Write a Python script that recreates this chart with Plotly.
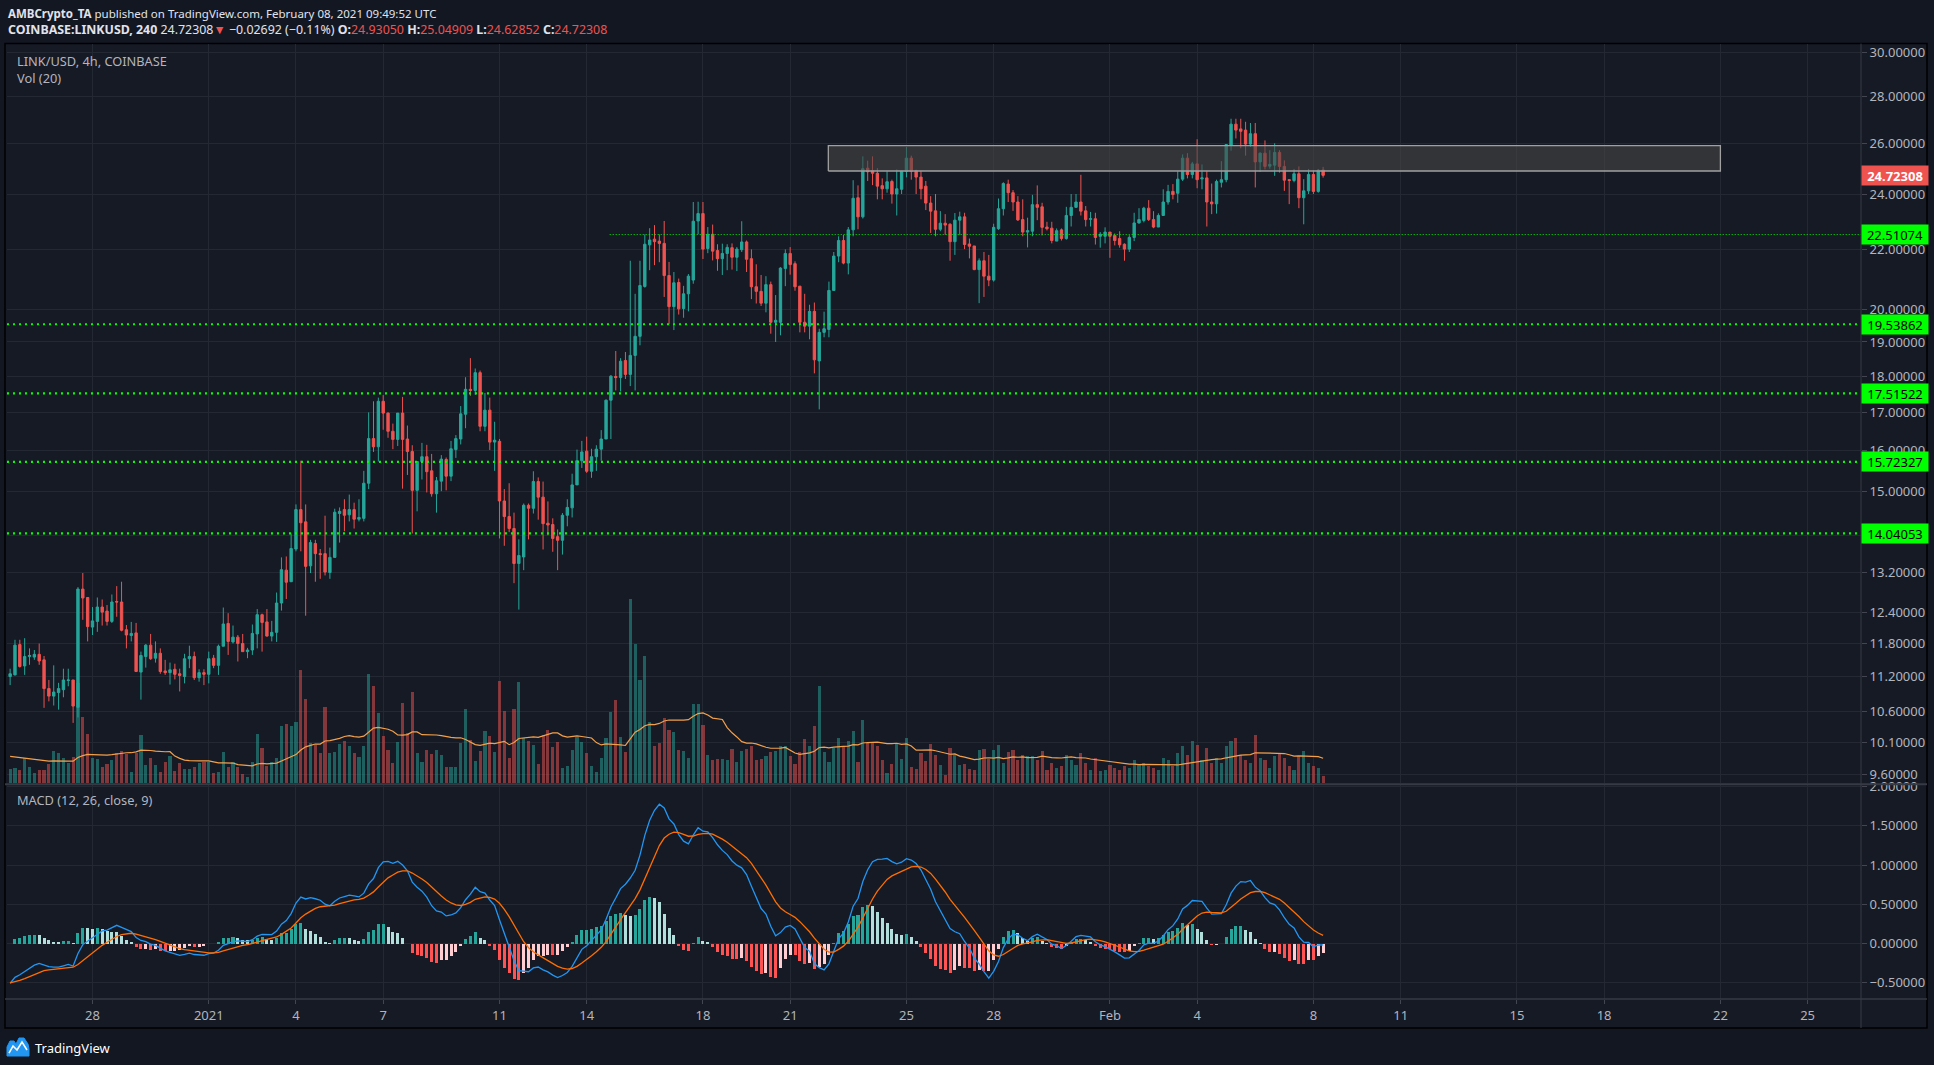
import numpy as np
import pandas as pd
import plotly.graph_objects as go

W, H = 1934, 1065
SQ = 0.993  # small vertical correction measured against the reference render
def px(x): return x / W
def py(y): return 1 - (H - (H - y) / SQ) / H

# ---------------- data ----------------
bar_start = "2020-12-25 04:00"
bar_count = 272

open_ = [11.20,11.23,11.78,11.39,11.56,11.55,11.60,11.50,10.99,10.86,
 10.92,10.97,11.13,11.14,10.67,12.86,12.69,12.11,12.22,12.50,
 12.42,12.22,12.61,12.60,12.06,11.95,12.00,11.28,11.56,11.77,
 11.53,11.62,11.30,11.27,11.33,11.25,11.20,11.52,11.56,11.18,
 11.27,11.24,11.53,11.40,11.75,12.18,11.83,11.92,11.80,11.65,
 11.68,11.98,12.35,12.21,11.94,12.01,12.58,13.25,13.01,13.70,
 14.58,14.30,13.34,13.82,13.60,13.60,13.20,13.52,14.49,14.58,
 14.46,14.58,14.36,14.38,15.20,16.31,16.10,17.30,16.98,16.50,
 16.29,16.98,16.30,15.98,15.03,15.73,15.85,15.50,14.95,15.25,
 15.78,15.37,16.03,16.30,16.95,17.63,17.60,18.10,16.63,17.06,
 16.22,16.24,14.78,14.42,14.15,13.39,13.53,14.68,14.61,15.24,
 14.87,14.27,14.24,13.97,13.89,14.45,14.62,15.16,15.75,15.99,
 15.49,15.85,16.04,16.30,17.33,17.99,17.96,18.45,18.05,18.60,
 19.17,20.74,22.15,22.35,22.28,22.20,21.10,20.09,20.87,20.03,
 20.50,20.95,23.00,23.27,22.02,22.52,21.95,21.67,21.85,22.05,
 21.72,21.98,22.25,21.67,20.73,20.58,20.20,20.80,19.60,19.60,
 21.34,21.85,21.50,20.75,19.60,19.48,19.94,18.44,19.29,19.38,
 20.61,21.76,22.30,21.52,22.68,23.86,23.15,25.00,24.90,24.80,
 24.32,24.20,24.48,24.00,24.18,24.88,25.40,24.90,24.65,24.30,
 23.66,23.37,22.70,22.92,22.88,22.26,23.03,23.15,22.18,22.11,
 21.30,21.60,21.08,20.95,22.72,23.45,24.38,24.05,23.70,23.05,
 22.60,22.63,23.60,23.52,22.78,22.74,22.28,22.68,22.37,23.20,
 23.50,23.70,23.37,23.06,23.08,22.45,22.45,22.60,22.48,22.37,
 22.17,22.00,22.41,22.93,23.02,23.47,23.05,22.78,23.20,23.70,
 24.10,24.03,24.57,25.40,24.75,25.17,24.58,24.62,23.70,23.63,
 24.45,24.55,25.93,26.80,26.60,26.55,25.97,26.40,25.25,25.60,
 25.08,25.12,25.63,25.07,24.55,24.52,24.78,23.86,24.12,24.75,
 24.10,24.93]

high = [11.34,11.87,11.87,11.90,11.71,11.68,11.80,11.57,11.14,11.40,
 11.09,11.34,11.34,11.14,12.90,13.19,12.69,12.50,12.69,12.65,
 12.54,12.75,12.92,13.01,12.15,12.21,12.19,11.65,11.79,11.98,
 11.84,11.71,11.50,11.45,11.43,11.34,11.61,11.76,11.65,11.33,
 11.33,11.65,11.59,11.78,12.49,12.38,12.14,11.96,11.98,11.72,
 12.16,12.46,12.37,12.46,12.23,12.79,13.52,13.54,14.04,14.70,
 15.75,14.70,13.90,13.90,13.70,14.44,13.73,14.60,14.63,14.82,
 14.93,14.74,14.82,15.50,17.00,17.30,17.40,17.47,17.00,16.70,
 16.98,17.42,16.65,16.14,15.73,16.20,16.15,15.92,15.35,15.89,
 15.83,16.25,16.40,17.17,17.97,18.52,18.22,18.16,17.53,17.40,
 16.75,16.30,15.06,15.20,14.51,13.91,14.72,14.72,15.49,15.34,
 15.24,14.77,14.38,14.13,14.50,14.82,15.43,16.03,16.25,16.36,
 16.05,16.14,16.53,17.35,18.03,18.73,18.52,18.70,21.60,20.50,
 21.60,22.52,22.74,22.85,22.52,23.00,21.56,21.22,21.00,20.76,
 21.15,23.70,23.71,23.70,22.78,22.87,22.17,22.19,22.17,22.20,
 22.07,22.99,22.30,21.99,21.48,21.12,21.08,20.90,20.46,21.38,
 21.99,22.07,21.58,20.75,20.50,20.15,20.22,19.40,19.93,20.90,
 21.90,22.45,22.50,22.78,24.53,24.33,25.47,25.30,25.47,25.00,
 24.60,24.88,24.55,24.95,24.90,25.85,25.50,24.94,24.90,24.50,
 23.92,24.00,23.36,23.25,22.92,23.29,23.34,23.30,22.37,22.11,
 21.68,21.90,21.80,22.90,23.83,24.45,24.55,24.15,23.92,23.80,
 23.12,23.97,24.33,23.67,22.97,22.97,22.73,22.73,23.52,24.00,
 24.00,24.74,23.55,23.33,23.30,22.60,22.77,22.60,22.55,22.63,
 22.20,22.49,23.30,23.47,23.52,23.77,23.36,23.28,24.18,24.35,
 24.38,24.88,25.55,25.60,25.25,26.17,25.15,24.90,24.40,24.55,
 25.28,25.95,27.03,27.03,27.03,26.90,26.85,26.85,25.63,26.12,
 25.72,26.00,25.72,25.31,24.57,24.97,25.07,24.57,24.97,24.93,
 24.97,25.05]

low = [11.05,11.22,11.36,11.23,11.41,11.50,11.41,10.66,10.77,10.70,
 10.63,10.84,11.03,10.41,10.50,12.25,11.84,11.96,12.02,12.14,
 12.14,12.19,12.31,12.03,11.71,11.84,11.28,10.80,11.36,11.50,
 11.45,11.25,11.23,11.06,11.15,10.94,11.08,11.35,11.14,11.11,
 11.05,11.08,11.35,11.23,11.75,11.59,11.80,11.47,11.65,11.53,
 11.59,11.71,11.65,11.93,11.84,11.83,12.43,12.66,13.01,13.65,
 13.65,12.33,13.19,13.01,13.07,13.14,13.07,13.52,13.84,14.09,
 14.31,14.15,14.31,14.31,15.06,15.97,15.73,16.54,16.33,16.04,
 16.12,15.07,15.40,14.04,14.54,15.29,14.98,14.88,14.51,15.01,
 15.03,15.25,15.82,16.16,16.58,17.45,17.48,16.50,16.50,16.02,
 15.50,13.93,13.77,14.07,12.98,12.45,13.25,13.91,14.49,14.35,
 13.69,14.00,13.64,13.25,13.58,14.20,14.40,15.16,15.57,15.45,
 15.33,15.50,15.75,16.30,16.30,17.60,17.57,17.92,17.72,17.60,
 18.90,20.70,21.28,21.45,21.55,20.40,19.54,19.36,19.84,19.74,
 19.94,20.83,22.52,21.66,21.86,21.61,21.26,21.12,21.28,21.30,
 21.25,21.90,21.22,20.33,20.19,20.11,19.91,19.25,19.00,19.20,
 20.75,21.13,20.60,19.29,19.29,19.08,18.08,17.08,19.14,19.14,
 20.61,21.55,21.48,21.14,22.45,22.70,23.09,24.50,24.34,23.80,
 23.80,24.05,23.64,23.20,24.00,24.64,24.55,24.00,23.80,23.40,
 22.57,22.45,22.63,22.50,21.60,21.80,22.50,22.00,21.68,21.28,
 20.20,20.40,20.75,20.90,22.68,23.20,23.70,23.37,23.00,22.45,
 22.06,22.45,23.03,22.48,22.66,22.20,22.28,22.30,22.33,22.80,
 23.50,23.20,22.80,22.80,22.16,22.05,22.20,21.70,22.13,22.05,
 21.60,21.90,22.28,22.90,22.95,23.00,22.74,22.78,23.20,23.60,
 23.80,23.67,24.50,24.60,24.60,24.22,24.18,22.80,23.25,23.27,
 24.25,24.45,25.70,26.20,25.80,25.50,25.85,24.25,24.86,24.95,
 24.98,24.70,24.83,24.12,23.62,24.45,23.47,22.88,24.00,24.00,
 24.05,24.63]

close = [11.25,11.77,11.38,11.56,11.58,11.60,11.48,10.99,10.86,10.93,
 10.99,11.14,11.14,10.69,12.86,12.68,12.12,12.23,12.50,12.40,
 12.22,12.60,12.60,12.05,11.96,11.99,11.29,11.58,11.77,11.52,
 11.62,11.29,11.27,11.32,11.24,11.22,11.52,11.56,11.18,11.27,
 11.24,11.52,11.40,11.75,12.17,11.84,11.92,11.80,11.65,11.68,
 11.99,12.35,12.20,11.94,12.01,12.58,13.26,13.00,13.71,14.58,
 14.28,13.33,13.84,13.60,13.58,13.21,13.52,14.52,14.54,14.45,
 14.58,14.36,14.40,15.20,16.31,16.10,17.30,16.98,16.50,16.29,
 16.98,16.29,15.98,15.03,15.73,15.85,15.48,14.95,15.26,15.79,
 15.37,16.05,16.31,16.96,17.63,17.60,18.10,16.63,17.06,16.22,
 16.27,14.78,14.42,14.15,13.39,13.56,14.68,14.61,15.24,14.87,
 14.26,14.23,13.93,13.89,14.45,14.63,15.16,15.75,15.97,15.49,
 15.85,16.04,16.30,17.33,18.00,17.96,18.43,18.05,18.60,19.17,
 20.77,22.17,22.32,22.26,22.20,21.10,20.09,20.86,20.02,20.50,
 21.08,22.99,23.27,22.00,22.52,21.93,21.67,21.85,22.06,21.72,
 22.00,22.25,21.65,20.73,20.58,20.20,20.80,19.60,19.66,21.35,
 21.85,21.47,20.73,19.60,19.48,19.94,18.47,19.29,19.40,20.61,
 21.76,22.30,21.52,22.68,23.84,23.15,24.98,24.86,24.80,24.30,
 24.20,24.47,24.00,24.20,24.88,25.40,24.88,24.65,24.20,23.66,
 23.36,22.70,22.92,22.85,22.26,23.03,23.15,22.16,22.10,21.30,
 21.60,21.08,20.95,22.77,23.45,24.40,24.05,23.70,23.04,22.60,
 22.65,23.60,23.50,22.77,22.72,22.30,22.65,22.37,23.20,23.50,
 23.70,23.36,23.05,23.08,22.41,22.52,22.60,22.45,22.30,22.15,
 22.00,22.41,22.93,23.05,23.47,23.05,22.78,23.20,23.70,24.10,
 23.98,24.57,25.40,24.75,25.17,24.55,24.62,23.70,23.63,24.48,
 24.55,25.95,26.80,26.55,26.50,25.97,26.40,25.25,25.60,25.07,
 25.15,25.63,25.07,24.53,24.52,24.78,23.86,24.12,24.75,24.10,
 24.92,24.72]

volume = [43,46,40,76,49,31,40,40,58,97,
 91,76,61,79,299,199,148,76,73,49,
 58,70,91,97,88,34,91,145,55,76,
 55,34,64,82,37,61,43,43,49,61,
 64,64,31,34,94,49,64,49,28,19,
 64,148,106,52,64,76,172,178,172,184,
 340,253,121,115,91,229,91,94,118,127,
 112,91,79,112,328,292,211,142,100,61,
 124,241,151,274,91,64,100,88,100,85,
 49,49,49,121,223,130,67,97,157,142,
 94,307,217,76,223,304,136,127,115,58,
 145,160,109,124,46,52,100,139,124,91,
 52,34,76,136,214,250,139,94,553,418,
 310,382,184,112,121,196,160,154,100,97,
 76,238,238,175,85,70,73,73,70,103,
 64,97,103,112,70,73,82,94,97,112,
 112,82,58,94,133,112,172,292,94,64,
 106,136,112,127,157,64,190,121,121,112,
 70,31,58,118,73,136,49,43,91,67,
 118,85,55,25,106,85,55,58,43,40,
 100,103,73,100,115,61,94,100,70,85,
 82,82,70,95,40,60,45,50,85,70,
 55,90,60,40,75,35,40,55,45,40,
 50,45,70,55,60,50,45,40,75,70,
 50,90,110,85,125,115,70,105,60,75,
 60,110,125,135,85,70,60,145,75,70,
 45,80,90,75,50,40,80,95,60,50,
 45,20]

macd_seed_ema12 = 11.30
macd_seed_ema26 = 11.84
macd_seed_signal = -0.50
vol_ma_seed = 82

# horizontal levels and zone
support_levels = [19.53862, 17.51522, 15.72327, 14.04053]
pivot_level = 22.51074
pivot_start = "2021-01-14 19:00"
zone_low, zone_high = 24.89, 25.91
zone_start, zone_end = "2021-01-22 07:30", "2021-02-22 00:00"
last_price = 24.72308

price_ticks = [30, 28, 26, 24, 22, 20, 19, 18, 17, 16, 15, 14, 13.2, 12.4, 11.8, 11.2, 10.6, 10.1, 9.6]
macd_ticks = [2.0, 1.5, 1.0, 0.5, 0.0, -0.5]
date_ticks = ["2020-12-28","2021-01-01","2021-01-04","2021-01-07","2021-01-11","2021-01-14",
              "2021-01-18","2021-01-21","2021-01-25","2021-01-28","2021-02-01","2021-02-04",
              "2021-02-08","2021-02-11","2021-02-15","2021-02-18","2021-02-22","2021-02-25"]
date_labels = ["28","2021","4","7","11","14","18","21","25","28","Feb","4","8","11","15","18","22","25"]

x_left, x_right = "2020-12-25 01:25", "2021-02-26 20:05"
price_lo, price_hi = 9.465, 30.44
macd_lo, macd_hi = -0.705, 2.018
vol_top = 2217

# ---------------- derived ----------------
times = pd.date_range(bar_start, periods=bar_count, freq="4h")
up = [c >= o for o, c in zip(open_, close)]
UP, DN = "#26a69a", "#ef5350"
vol_colors = ["rgba(38,166,154,0.5)" if u else "rgba(239,83,80,0.5)" for u in up]

vol_ma = pd.Series([vol_ma_seed] * 19 + volume).rolling(20).mean().iloc[19:].values

e12, e26, sg = macd_seed_ema12, macd_seed_ema26, macd_seed_signal
macd, signal = [], []
for c in close:
    e12 += 2 / 13 * (c - e12)
    e26 += 2 / 27 * (c - e26)
    m = e12 - e26
    sg += 2 / 10 * (m - sg)
    macd.append(m)
    signal.append(sg)
hist = [m - s for m, s in zip(macd, signal)]
hist_colors = []
for i, hv in enumerate(hist):
    prev = hist[i - 1] if i > 0 else hv
    if hv >= 0:
        hist_colors.append("#26a69a" if hv > prev else "#b2dfdb")
    else:
        hist_colors.append("#ffcdd2" if hv > prev else "#ff5252")

bar_ms = 4 * 3600 * 1000
FONT = "Noto Sans"
GRID = "#242833"
TXT = "#b2b5be"

fig = go.Figure()

# zone
fig.add_trace(go.Scatter(x=[zone_start, zone_end, zone_end, zone_start, zone_start],
                         y=[zone_low, zone_low, zone_high, zone_high, zone_low],
                         mode="lines", fill="toself", fillcolor="rgba(70,70,70,0.6)",
                         line=dict(color="#a0a0a0", width=1.3), xaxis="x", yaxis="y2",
                         hoverinfo="skip"))
# volume
fig.add_trace(go.Bar(x=times, y=volume, marker=dict(color=vol_colors, line=dict(width=0)),
                     width=bar_ms * 0.65, xaxis="x", yaxis="y", hoverinfo="skip"))
fig.add_trace(go.Scatter(x=times, y=vol_ma, mode="lines", line=dict(color="#f4a04a", width=1.2),
                         xaxis="x", yaxis="y", hoverinfo="skip"))
# levels
for lv in support_levels:
    fig.add_trace(go.Scatter(x=[x_left, x_right], y=[lv, lv], mode="lines",
                             line=dict(color="#00ff00", width=2.2, dash="2px,4px"),
                             xaxis="x", yaxis="y2", hoverinfo="skip"))
fig.add_trace(go.Scatter(x=[pivot_start, x_right], y=[pivot_level, pivot_level], mode="lines",
                         line=dict(color="#00ff00", width=1, dash="1px,2px"),
                         xaxis="x", yaxis="y2", hoverinfo="skip"))
# candles
fig.add_trace(go.Candlestick(x=times, open=open_, high=high, low=low, close=close,
                             increasing=dict(line=dict(color=UP, width=1), fillcolor=UP),
                             decreasing=dict(line=dict(color=DN, width=1), fillcolor=DN),
                             whiskerwidth=0, xaxis="x", yaxis="y2", hoverinfo="skip"))
# MACD
fig.add_trace(go.Bar(x=times, y=hist, marker=dict(color=hist_colors, line=dict(width=0)),
                     width=bar_ms * 0.62, xaxis="x2", yaxis="y3", hoverinfo="skip"))
fig.add_trace(go.Scatter(x=times, y=macd, mode="lines", line=dict(color="#2196f3", width=1.3),
                         xaxis="x2", yaxis="y3", hoverinfo="skip"))
fig.add_trace(go.Scatter(x=times, y=signal, mode="lines", line=dict(color="#ff6d00", width=1.3),
                         xaxis="x2", yaxis="y3", hoverinfo="skip"))

x_dom = [px(7), px(1861)]
price_dom = [py(783), py(43)]
macd_dom = [py(999), py(785)]
tickfont = dict(family=FONT, size=13, color=TXT)

fig.update_layout(
    width=W, height=H, margin=dict(l=0, r=0, t=0, b=0),
    paper_bgcolor="#131722", plot_bgcolor="rgba(0,0,0,0)",
    showlegend=False, hovermode=False, bargap=0,
    font=dict(family=FONT, color=TXT),
    xaxis=dict(domain=x_dom, anchor="y", type="date", range=[x_left, x_right],
               tickvals=date_ticks, showticklabels=False, ticks="", showgrid=True,
               gridcolor=GRID, gridwidth=1, zeroline=False, showline=False,
               rangeslider=dict(visible=False)),
    yaxis=dict(domain=price_dom, range=[0, vol_top], visible=False, showgrid=False),
    yaxis2=dict(overlaying="y", anchor="x", side="right", type="log",
                range=[np.log10(price_lo), np.log10(price_hi)],
                tickvals=price_ticks, ticktext=[f"{v:.5f}" for v in price_ticks],
                showgrid=True, gridcolor=GRID, zeroline=False, showline=False,
                ticks="outside", ticklen=5, tickcolor="#434651", tickfont=tickfont),
    xaxis2=dict(domain=x_dom, anchor="y3", matches="x", type="date",
                tickvals=date_ticks, ticktext=date_labels, showgrid=True, gridcolor=GRID,
                ticks="outside", ticklen=4, tickcolor="#434651", tickfont=tickfont,
                zeroline=False, showline=False, rangeslider=dict(visible=False)),
    yaxis3=dict(domain=macd_dom, anchor="x2", side="right", range=[macd_lo, macd_hi],
                tickvals=macd_ticks,
                ticktext=[f"{v:.5f}".replace("-", "\u2212") for v in macd_ticks],
                showgrid=True, gridcolor=GRID, zeroline=False, showline=False,
                ticks="outside", ticklen=5, tickcolor="#434651", tickfont=tickfont),
)

shapes = [
    dict(type="rect", xref="paper", yref="paper", x0=px(5), x1=px(1927), y0=py(1028), y1=py(43),
         fillcolor="#161a25", line=dict(color="#000000", width=1.5), layer="below"),
    dict(type="line", xref="paper", yref="paper", x0=px(1861), x1=px(1861), y0=py(1028), y1=py(43),
         line=dict(color="#363a45", width=1), layer="above"),
    dict(type="line", xref="paper", yref="paper", x0=px(5), x1=px(1927), y0=py(784), y1=py(784),
         line=dict(color="#363a45", width=2), layer="above"),
    dict(type="line", xref="paper", yref="paper", x0=px(5), x1=px(1927), y0=py(999), y1=py(999),
         line=dict(color="#363a45", width=1.5), layer="above"),
]
# TradingView logo mark
logo = [(7, 1056), (7, 1047), (10, 1041), (14, 1041), (16, 1044), (19, 1038), (24, 1038),
        (28, 1044), (29, 1049), (29, 1056)]
path = "M " + " L ".join(f"{px(a)} {py(b)}" for a, b in logo) + " Z"
shapes.append(dict(type="path", xref="paper", yref="paper", path=path,
                   fillcolor="#2196f3", line=dict(color="#2196f3", width=1)))
zig = [(9, 1053), (13, 1046), (17, 1050), (22, 1042), (27, 1050)]
shapes.append(dict(type="path", xref="paper", yref="paper",
                   path="M " + " L ".join(f"{px(a)} {py(b)}" for a, b in zig),
                   line=dict(color="#ffffff", width=1.5)))
fig.update_layout(shapes=shapes)

RED = "#ef5350"
ann = []
ann.append(dict(xref="paper", yref="paper", x=px(6), y=py(13), xanchor="left", yanchor="middle",
                showarrow=False, font=dict(family=FONT, size=11.5, color="#e0e3eb"),
                text="<b>AMBCrypto_TA</b> published on TradingView.com, February 08, 2021 09:49:52 UTC"))
ann.append(dict(xref="paper", yref="paper", x=px(6), y=py(29), xanchor="left", yanchor="middle",
                showarrow=False, font=dict(family=FONT, size=12.4, color="#e0e3eb"),
                text=(f"<b>COINBASE:LINKUSD, 240</b> 24.72308<span style='color:{RED}'>\u25bc</span> "
                      f"\u22120.02692 (\u22120.11%) <b>O:</b><span style='color:{RED}'>24.93050</span> "
                      f"<b>H:</b><span style='color:{RED}'>25.04909</span> "
                      f"<b>L:</b><span style='color:{RED}'>24.62852</span> "
                      f"<b>C:</b><span style='color:{RED}'>24.72308</span>")))
for txt, yy in [("LINK/USD, 4h, COINBASE", 60), ("Vol (20)", 77), ("MACD (12, 26, close, 9)", 800)]:
    ann.append(dict(xref="paper", yref="paper", x=px(15), y=py(yy), xanchor="left", yanchor="middle",
                    showarrow=False, font=dict(family=FONT, size=12.8, color=TXT), text=txt))
for lv in [pivot_level] + support_levels:
    ann.append(dict(xref="paper", yref="y2", x=px(1861), y=np.log10(lv), xanchor="left",
                    yanchor="middle", showarrow=False, bgcolor="#00ff00", borderpad=2,
                    width=62, height=15, align="center",
                    font=dict(family=FONT, size=13, color="#000000"), text=f"{lv:.5f}"))
ann.append(dict(xref="paper", yref="y2", x=px(1861), y=np.log10(last_price), xanchor="left",
                yanchor="middle", showarrow=False, bgcolor=RED, borderpad=2, width=62, height=15,
                align="center", font=dict(family=FONT, size=13, color="#ffffff"),
                text=f"<b>{last_price:.5f}</b>"))
ann.append(dict(xref="paper", yref="paper", x=px(33), y=py(1048), xanchor="left", yanchor="middle",
                showarrow=False, font=dict(family=FONT, size=13, color="#ffffff"), text="TradingView"))
fig.update_layout(annotations=ann)

fig.write_html("out.html", config={"displayModeBar": False, "staticPlot": True},
               post_script="document.body.style.margin='0';document.body.style.background='#131722';"
                           "document.body.style.overflow='hidden';")
